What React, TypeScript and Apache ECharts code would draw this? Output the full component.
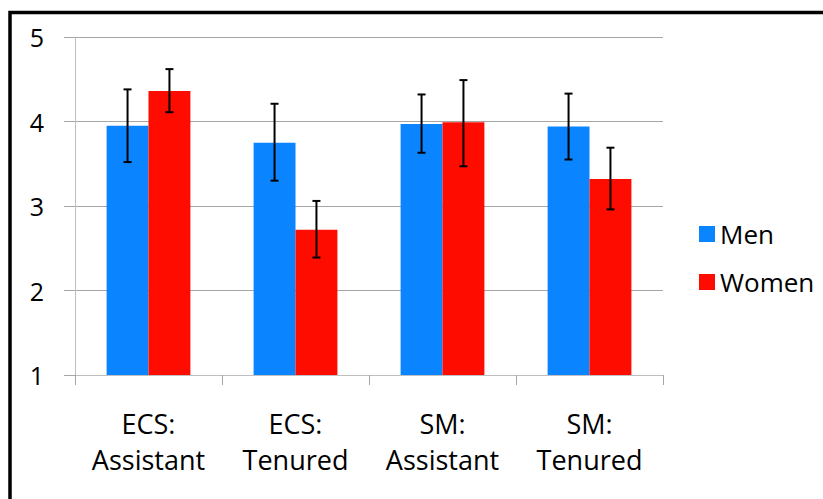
import React, { useEffect, useRef } from "react";
import * as echarts from "echarts";

const categories = ["ECS:\nAssistant", "ECS:\nTenured", "SM:\nAssistant", "SM:\nTenured"];
const seriesNames = ["Men", "Women"];
const menValues = [3.95, 3.75, 3.97, 3.94];
const womenValues = [4.36, 2.72, 3.99, 3.32];
const menLow = [3.52, 3.3, 3.63, 3.55];
const menHigh = [4.38, 4.21, 4.32, 4.33];
const womenLow = [4.11, 2.39, 3.47, 2.96];
const womenHigh = [4.62, 3.06, 4.49, 3.69];
const yTicks = [1, 2, 3, 4, 5];

const FONT = "Open Sans";
const CAT_GAP = 0.43;

function errorSeries(low: number[], high: number[], side: number) {
  return {
    type: "custom",
    silent: true,
    z: 10,
    data: low.map((l, i) => [i, l, high[i]]),
    encode: { x: 0, y: [1, 2] },
    renderItem: (params: any, api: any) => {
      const idx = api.value(0);
      const lo = api.coord([idx, api.value(1)]);
      const hi = api.coord([idx, api.value(2)]);
      const band = api.size([1, 0])[0];
      const barW = (band * (1 - CAT_GAP)) / 2;
      const x = lo[0] + (side * barW) / 2;
      const cap = 4;
      const style = { stroke: "#000", lineWidth: 2 };
      return {
        type: "group",
        children: [
          { type: "line", shape: { x1: x, y1: hi[1], x2: x, y2: lo[1] }, style },
          { type: "line", shape: { x1: x - cap, y1: hi[1], x2: x + cap, y2: hi[1] }, style },
          { type: "line", shape: { x1: x - cap, y1: lo[1], x2: x + cap, y2: lo[1] }, style },
        ],
      };
    },
  };
}

export default function App() {
  const ref = useRef<HTMLDivElement>(null);
  useEffect(() => {
    if (!ref.current) return;
    const chart = echarts.init(ref.current, undefined, { renderer: "svg" });
    chart.setOption({
      animation: false,
      backgroundColor: "#fff",
      textStyle: { fontFamily: FONT },
      grid: { left: 75, right: 160, top: 37, bottom: 124 },
      legend: {
        data: seriesNames,
        orient: "vertical",
        left: 694,
        top: 214,
        itemWidth: 16,
        itemHeight: 16,
        itemGap: 18,
        icon: "rect",
        textStyle: { fontFamily: FONT, fontSize: 26, color: "#000", lineHeight: 30, padding: [0, 0, 0, 0] },
      },
      xAxis: {
        type: "category",
        data: categories,
        axisLine: { lineStyle: { color: "#bfbfbf", width: 1 } },
        axisTick: { show: true, length: 10, lineStyle: { color: "#a6a6a6" } },
        axisLabel: { interval: 0, fontSize: 27, lineHeight: 36, color: "#000", margin: 30, fontFamily: FONT },
      },
      yAxis: {
        type: "value",
        min: yTicks[0],
        max: yTicks[yTicks.length - 1],
        interval: 1,
        axisLine: { show: true, lineStyle: { color: "#bfbfbf", width: 1 } },
        axisTick: { show: true, length: 11, lineStyle: { color: "#a6a6a6" } },
        axisLabel: { fontSize: 25, color: "#000", margin: 31, fontFamily: FONT },
        splitLine: { lineStyle: { color: "#a6a6a6", width: 1 } },
      },
      graphic: [
        {
          type: "rect",
          shape: { x: 10, y: 12.5, width: 900, height: 600 },
          style: { fill: "none", stroke: "#000", lineWidth: 3.5 },
          silent: true,
          z: 100,
        },
      ],
      series: [
        {
          name: seriesNames[0],
          type: "bar",
          data: menValues,
          barGap: "0%",
          barCategoryGap: "43%",
          itemStyle: { color: "#0a84ff" },
        },
        {
          name: seriesNames[1],
          type: "bar",
          data: womenValues,
          barGap: "0%",
          barCategoryGap: "43%",
          itemStyle: { color: "#ff0c00" },
        },
        errorSeries(menLow, menHigh, -1),
        errorSeries(womenLow, womenHigh, 1),
      ],
    });
    return () => chart.dispose();
  }, []);
  return (
    <div
      ref={ref}
      style={{ position: "fixed", left: 0, top: 0, width: 823, height: 499 }}
    />
  );
}
